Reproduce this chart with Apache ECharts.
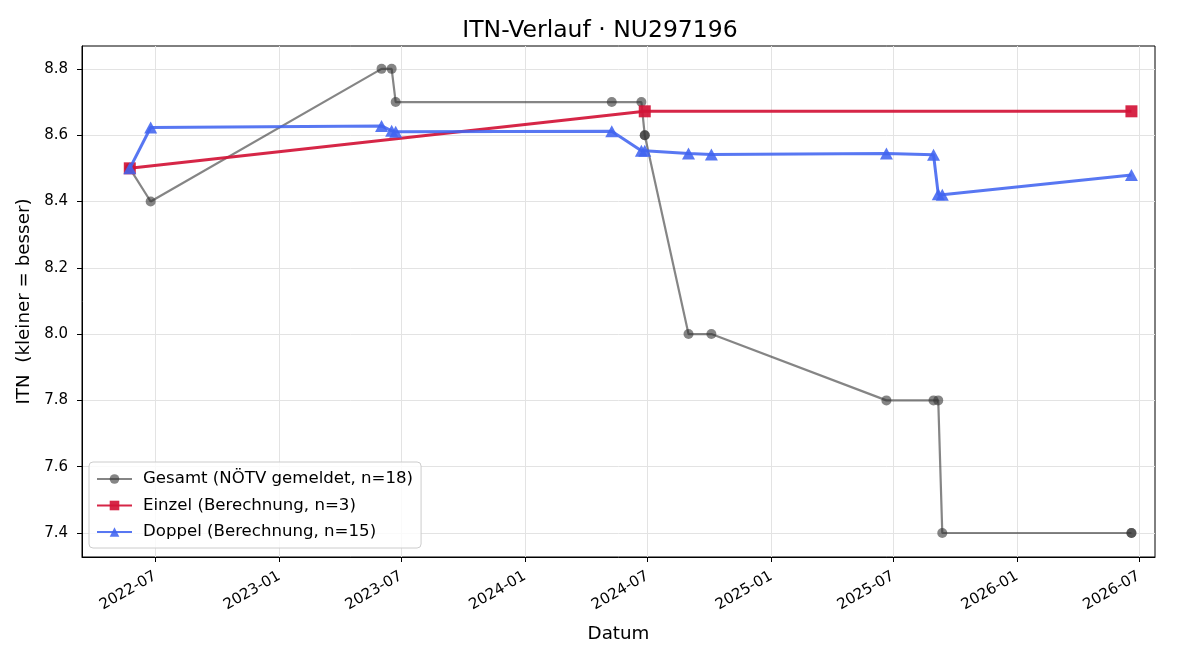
<!DOCTYPE html>
<html>
<head>
<meta charset="utf-8">
<script src="https://cdn.jsdelivr.net/npm/echarts@6/dist/echarts.min.js"></script>
<style>
    html, body { margin: 0; padding: 0; background: #fff; }
    #chart { width: 1200px; height: 660px; }
</style>
</head>
<body>
<div id="chart"></div>
<script>
// Gesamt (NÖTV gemeldet) - 18 Meldungen, teils gleiche Tage
const gesamtDates = ['2022-05-24', '2022-05-24', '2022-06-24', '2023-06-02', '2023-06-17', '2023-06-23',
    '2024-05-09', '2024-06-22', '2024-06-27', '2024-06-27', '2024-08-31', '2024-10-04',
    '2025-06-21', '2025-08-30', '2025-09-06', '2025-09-12', '2026-06-20', '2026-06-20'];
const gesamtValues = [8.5, 8.5, 8.4, 8.8, 8.8, 8.7, 8.7, 8.7, 8.6, 8.6, 8.0, 8.0, 7.8, 7.8, 7.8, 7.4, 7.4, 7.4];

const einzelDates = ['2022-05-24', '2024-06-27', '2026-06-20'];
const einzelValues = [8.5, 8.672, 8.672];

const doppelDates = ['2022-05-24', '2022-06-24', '2023-06-02', '2023-06-17', '2023-06-23', '2024-05-09',
    '2024-06-22', '2024-06-27', '2024-08-31', '2024-10-04', '2025-06-21', '2025-08-30',
    '2025-09-06', '2025-09-12', '2026-06-20'];
const doppelValues = [8.5, 8.623, 8.628, 8.613, 8.61, 8.612, 8.553, 8.553, 8.545, 8.542, 8.545, 8.541, 8.422, 8.42, 8.48];

const xTicks = ['2022-07-01', '2023-01-01', '2023-07-01', '2024-01-01', '2024-07-01',
    '2025-01-01', '2025-07-01', '2026-01-01', '2026-07-01'];
const yTicks = [7.4, 7.6, 7.8, 8.0, 8.2, 8.4, 8.6, 8.8];
const xRange = ['2022-03-14', '2026-07-25'];
const yRange = [7.3276, 8.869];

function toTime(s) {
    const p = s.split('-').map(Number);
    return new Date(p[0], p[1] - 1, p[2]).getTime();
}
function pairs(dates, values) {
    return dates.map((d, i) => [toTime(d), values[i]]);
}

const chart = echarts.init(document.getElementById('chart'));
const font = 'DejaVu Sans';

const options = {
    animation: false,
    textStyle: { fontFamily: font },
    title: {
        text: 'ITN-Verlauf · NU297196',
        left: 'center',
        top: 14,
        textStyle: { fontFamily: font, fontSize: 23.5, fontWeight: 'normal', color: '#000' }
    },
    legend: {
        orient: 'vertical',
        left: 89,
        top: 462,
        padding: [7, 8, 6, 7],
        itemGap: 6.5,
        itemWidth: 35,
        itemHeight: 12,
        borderColor: '#cccccc',
        borderWidth: 1,
        borderRadius: 4,
        backgroundColor: 'rgba(255,255,255,0.8)',
        textStyle: { fontFamily: font, fontSize: 16.6, lineHeight: 20, color: '#000', padding: [0, 0, 0, 6] },
        data: ['Gesamt (NÖTV gemeldet, n=18)', 'Einzel (Berechnung, n=3)', 'Doppel (Berechnung, n=15)']
    },
    grid: {
        left: 82,
        right: 45,
        top: 46,
        bottom: 103,
        show: true,
        borderColor: '#000',
        borderWidth: 1,
        containLabel: false
    },
    xAxis: {
        type: 'value',
        min: toTime(xRange[0]),
        max: toTime(xRange[1]),
        name: 'Datum',
        nameLocation: 'middle',
        nameGap: 68,
        nameTextStyle: { fontFamily: font, fontSize: 18.3, color: '#000' },
        axisLine: { show: true, onZero: false, lineStyle: { color: '#000', width: 1 } },
        axisTick: {
            show: true,
            length: 5,
            lineStyle: { color: '#000' },
            customValues: xTicks.map(toTime)
        },
        axisLabel: {
            rotate: 30,
            margin: 18,
            fontFamily: font,
            fontSize: 15,
            color: '#000',
            customValues: xTicks.map(toTime),
            formatter: function (v) {
                const d = new Date(v);
                return d.getFullYear() + '-' + String(d.getMonth() + 1).padStart(2, '0');
            }
        },
        splitLine: { show: true, lineStyle: { color: '#e3e3e3', width: 1 } }
    },
    yAxis: {
        type: 'value',
        min: yRange[0],
        max: yRange[1],
        name: 'ITN  (kleiner = besser)',
        nameLocation: 'middle',
        nameGap: 47,
        nameTextStyle: { fontFamily: font, fontSize: 18.3, color: '#000' },
        axisLine: { show: true, onZero: false, lineStyle: { color: '#000', width: 1 } },
        axisTick: {
            show: true,
            length: 5,
            lineStyle: { color: '#000' },
            customValues: yTicks
        },
        axisLabel: {
            margin: 14,
            fontFamily: font,
            fontSize: 15,
            color: '#000',
            customValues: yTicks,
            formatter: v => v.toFixed(1)
        },
        splitLine: { show: true, lineStyle: { color: '#e3e3e3', width: 1 } }
    },
    series: [
        {
            name: 'Gesamt (NÖTV gemeldet, n=18)',
            type: 'line',
            data: pairs(gesamtDates, gesamtValues),
            symbol: 'circle',
            symbolSize: 10,
            showAllSymbol: true,
            lineStyle: { color: 'rgba(51,51,51,0.6)', width: 2.2 },
            itemStyle: { color: 'rgba(51,51,51,0.6)' },
            z: 2
        },
        {
            name: 'Einzel (Berechnung, n=3)',
            type: 'line',
            data: pairs(einzelDates, einzelValues),
            symbol: 'rect',
            symbolSize: 12,
            lineStyle: { color: 'rgba(210,20,55,0.92)', width: 3 },
            itemStyle: { color: 'rgba(210,20,55,0.92)' },
            z: 3
        },
        {
            name: 'Doppel (Berechnung, n=15)',
            type: 'line',
            data: pairs(doppelDates, doppelValues),
            symbol: 'triangle',
            symbolSize: [13, 12],
            showAllSymbol: true,
            lineStyle: { color: 'rgba(65,100,240,0.88)', width: 3 },
            itemStyle: { color: 'rgba(65,100,240,0.88)' },
            z: 4
        }
    ]
};
chart.setOption(options);
window.addEventListener('resize', () => chart.resize());
</script>
</body>
</html>
